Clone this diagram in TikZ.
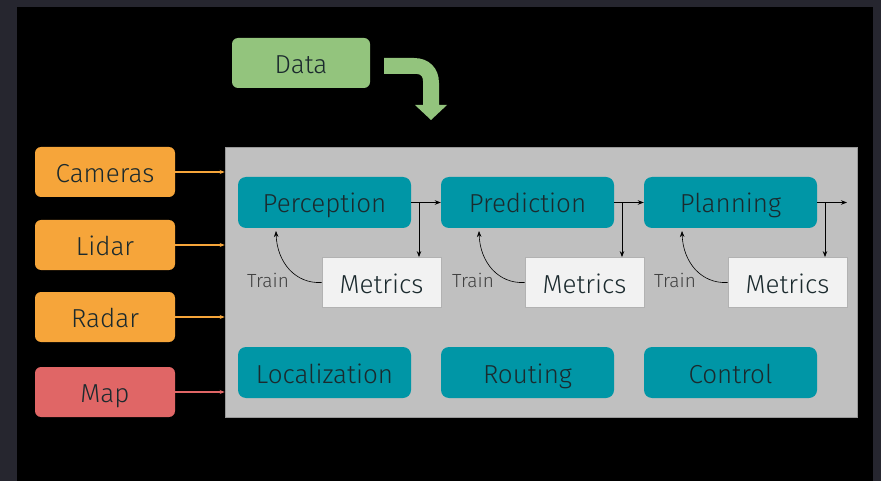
\documentclass[tikz,border=0pt]{standalone}
\usepackage{fontspec}
\setmainfont{Fira Sans Light}
\usetikzlibrary{arrows.meta}
\definecolor{frame}{HTML}{26262F}
\definecolor{datagreen}{HTML}{93C47D}
\definecolor{inorange}{HTML}{F6A53A}
\definecolor{mapred}{HTML}{E06666}
\definecolor{panelgray}{HTML}{C0C0C0}
\definecolor{teal}{HTML}{0096A6}
\definecolor{metricfill}{HTML}{F2F2F2}
\definecolor{ink}{HTML}{1B2A2E}
\tikzset{
  boxtext/.style={font=\fontsize{26}{30}\selectfont, text=ink,
    text height=21pt, text depth=0pt},
  inbox/.style={boxtext, rounded corners=6pt, minimum width=140pt, minimum height=50pt,
    inner sep=0pt},
  stage/.style={boxtext, fill=teal, rounded corners=8pt, minimum width=173pt,
    minimum height=51pt, inner sep=0pt},
  metricbox/.style={boxtext, fill=metricfill, draw=black!30, line width=0.8pt,
    minimum width=119pt, minimum height=50pt, inner sep=0pt},
  feed/.style={-{Stealth[length=5pt,width=4pt]}, line width=1.1pt},
  flow/.style={-{Stealth[length=6pt,width=4.5pt]}, line width=0.8pt, black},
  trainlbl/.style={font=\fontsize{19}{22}\selectfont, text=black!75}
}
\begin{document}
\begin{tikzpicture}[x=1pt,y=-1pt]
% frame and canvas
\fill[frame] (0,0) rectangle (881,481);
\fill[black] (17,7) rectangle (873,481);
\useasboundingbox (0,0) rectangle (881,481);

% data source and bent arrow
\node[boxtext, fill=datagreen, rounded corners=6pt, minimum width=138pt, minimum height=50pt,
  inner sep=0pt] (data) at (301,63) {Data};
\fill[datagreen] (384,58) -- (414,58) .. controls (429,58) and (439,68) .. (439,83)
  -- (439,105) -- (447,105) -- (431,120) -- (415,105) -- (423,105) -- (423,81)
  .. controls (423,77) and (421,74) .. (417,74) -- (384,74) -- cycle;

% system panel
\node[fill=panelgray, draw=black!40, line width=0.6pt, minimum width=632pt,
  minimum height=270pt, inner sep=0pt] (panel) at (541,282) {};

% sensor inputs
\node[inbox, fill=inorange] (cam) at (105,172) {Cameras};
\node[inbox, fill=inorange] (lidar) at (105,245) {Lidar};
\node[inbox, fill=inorange] (radar) at (105,317) {Radar};
\node[inbox, fill=mapred] (map) at (105,392) {Map};
\foreach \n in {cam,lidar,radar}
  \draw[feed, inorange] (\n.east) -- (\n.east -| panel.west);
\draw[feed, mapred] (map.east) -- (map.east -| panel.west);

% pipeline stages
\node[stage] (perc) at (324.5,202.5) {Perception};
\node[stage] (pred) at (527.5,202.5) {Prediction};
\node[stage] (plan) at (730.5,202.5) {Planning};
\node[stage] (loc) at (324.5,372.5) {Localization};
\node[stage] (rout) at (527.5,372.5) {Routing};
\node[stage] (ctrl) at (730.5,372.5) {Control};

% evaluation boxes
\node[metricbox] (m1) at (381.5,282.5) {Metrics};
\node[metricbox] (m2) at (584.5,282.5) {Metrics};
\node[metricbox] (m3) at (787.5,282.5) {Metrics};

% stage-to-stage flow with branches to the metrics
\draw[flow] (perc.east) -- (pred.west);
\draw[flow] (pred.east) -- (plan.west);
\coordinate (out) at (847,202.5);
\draw[flow] (plan.east) -- (out);
\coordinate (b1) at (419,202.5);
\coordinate (b2) at (622,202.5);
\coordinate (b3) at (825,202.5);
\draw[flow] (b1) -- (b1 |- m1.north);
\draw[flow] (b2) -- (b2 |- m2.north);
\draw[flow] (b3) -- (b3 |- m3.north);

% training feedback
\coordinate (t1) at (276,231);
\coordinate (t2) at (479,231);
\coordinate (t3) at (682,231);
\draw[flow, line width=0.6pt] (m1.west) .. controls (295,284) and (277,262) .. (t1);
\draw[flow, line width=0.6pt] (m2.west) .. controls (498,284) and (480,262) .. (t2);
\draw[flow, line width=0.6pt] (m3.west) .. controls (701,284) and (683,262) .. (t3);
\node[trainlbl] (tr1) at (268,280) {Train};
\node[trainlbl] (tr2) at (473,280) {Train};
\node[trainlbl] (tr3) at (675,280) {Train};
\end{tikzpicture}
\end{document}
